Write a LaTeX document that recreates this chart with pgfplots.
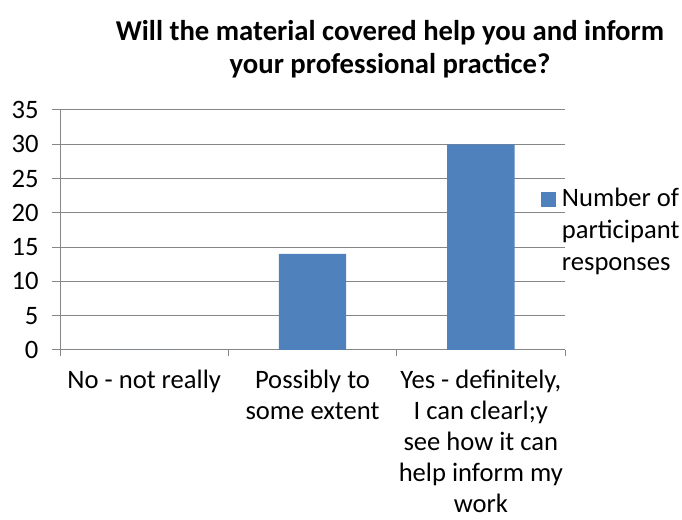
\documentclass[border=0pt]{standalone}
\usepackage{pgfplots}
\pgfplotsset{compat=1.18}
\usepackage{fontspec}
\setmainfont{Carlito}
\definecolor{barblue}{HTML}{4F81BD}
\definecolor{gridgray}{HTML}{868686}
\begin{document}
\begin{tikzpicture}[x=1bp,y=1bp]
\useasboundingbox (0,0) rectangle (682,520);
\node[align=center, font=\fontsize{28.7bp}{33bp}\selectfont\bfseries] at (390,471) {Will the material covered help you and inform\\your professional practice?};
\begin{axis}[
  at={(60bp,170bp)}, anchor=south west,
  scale only axis, width=505bp, height=240bp,
  ymin=0, ymax=35, ytick={0,5,...,35},
  xmin=-0.5, xmax=2.5,
  xtick={0,1,2},
  xticklabels={No - not really, {Possibly to\\some extent}, {Yes - definitely,\\I can clearl;y\\see how it can\\help inform my\\work}},
  minor xtick={-0.5,0.5,1.5,2.5},
  major x tick style={draw=none},
  minor x tick style={draw=gridgray, line width=1bp},
  minor tick length=6bp,
  major tick length=8bp,
  tick align=outside,
  ytick style={draw=gridgray, line width=1bp},
  ymajorgrids,
  grid style={draw=gridgray, line width=1bp},
  axis x line*=bottom, axis y line*=left,
  axis line style={draw=gridgray, line width=1bp},
  /pgf/number format/assume math mode=true,
  ticklabel style={font=\fontsize{26.6bp}{30.8bp}\selectfont},
  xticklabel style={align=center, yshift=-9bp},
  yticklabel style={xshift=-10bp},
  ybar, bar width=0.4,
  legend style={at={(0.946,0.71)}, anchor=north west, draw=none, fill=none,
    font=\fontsize{26.6bp}{32bp}\selectfont, cells={anchor=base west}},
  legend image code/.code={\fill[barblue] (0bp,-1bp) rectangle (15bp,14bp);},
]
\addplot[fill=barblue, draw=none] coordinates {(0,0) (1,14) (2,30)};
\addlegendentry{\begin{tabular}[t]{@{\hspace{4bp}}l@{}}Number of\\participant\\responses\end{tabular}}
\end{axis}
\end{tikzpicture}
\end{document}
